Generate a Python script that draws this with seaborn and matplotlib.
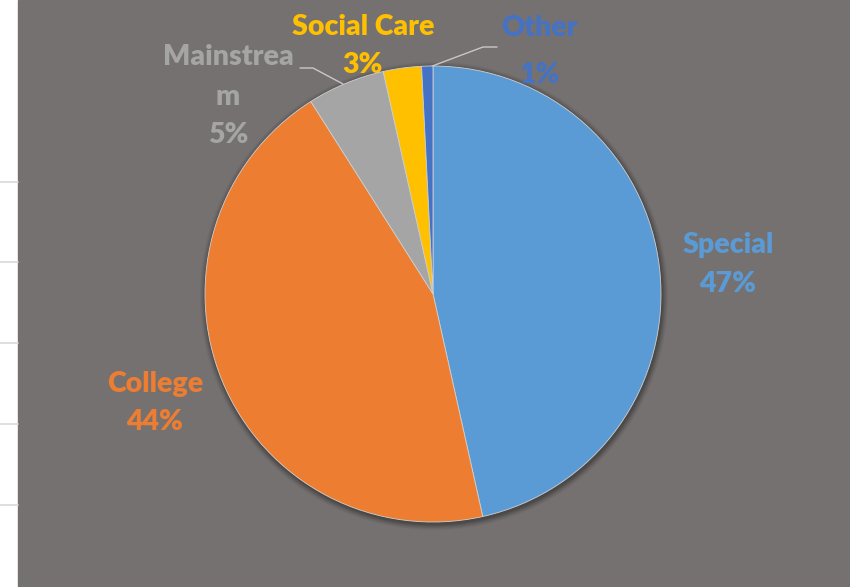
import numpy as np
import seaborn as sns
import matplotlib.pyplot as plt
from matplotlib.patches import Rectangle, Circle

# -------------------------------
# Data
# -------------------------------
categories = ["Special", "College", "Mainstream", "Social Care", "Other"]
shares = [46.5, 44.5, 5.5, 2.7, 0.8]
pct_labels = ["47%", "44%", "5%", "3%", "1%"]
name_lines = [["Special"], ["College"], ["Mainstrea", "m"], ["Social Care"], ["Other"]]
colors = ["#5B9BD5", "#ED7D31", "#A5A5A5", "#FFC000", "#4472C4"]

# label placement in pixels (x, y of each line from top), layout only
label_px = [
    (728, [245, 284]),
    (155, [384, 422]),
    (228, [57, 97, 135]),
    (363, [27, 65]),
    (540, [28, 75]),
]

W, H = 850, 587
CX, CY, R = 433, 294, 228
BG = "#767171"

sns.set_theme(style="white")
plt.rcParams['font.family'] = ['Lato', 'DejaVu Sans']

fig = plt.figure(figsize=(W / 100, H / 100), dpi=100)
fig.patch.set_facecolor("white")

# background: spreadsheet strip + grey chart area
bg = fig.add_axes([0, 0, 1, 1])
bg.set_xlim(0, W)
bg.set_ylim(H, 0)
bg.axis("off")
for gy in [182, 262, 343, 424, 505]:
    bg.plot([0, 18], [gy, gy], color="#D9D9D9", lw=1.2)
bg.add_patch(Rectangle((18, 0), W - 18, H, color=BG, zorder=1))

# soft shadow around pie
for k, a in zip(range(8, 0, -1), np.linspace(0.02, 0.08, 8)):
    bg.add_patch(Circle((CX + 1, CY + 2), R + k * 0.8, color="black", alpha=a, lw=0, zorder=2))

# pie
ax = fig.add_axes([(CX - R) / W, 1 - (CY + R) / H, 2 * R / W, 2 * R / H])
ax.pie(shares, colors=colors, startangle=90, counterclock=False, radius=1,
       wedgeprops=dict(edgecolor="#D0D0D0", linewidth=0.6))
ax.set_xlim(-1, 1)
ax.set_ylim(-1, 1)
ax.axis("off")

# labels
for (x, ys), names, pct, col in zip(label_px, name_lines, pct_labels, colors):
    for txt, y in zip(names + [pct], ys):
        bg.text(x, y, txt, color=col, fontsize=20.5, fontweight="heavy",
                ha="center", va="center", zorder=5)

# leader lines
bg.plot([300, 313, 343], [68, 68, 84], color="#C8C8C8", lw=1, zorder=4)
bg.plot([427, 483, 497], [68, 47, 47], color="#C8C8C8", lw=1, zorder=4)

fig.savefig("out.png", dpi=100)
